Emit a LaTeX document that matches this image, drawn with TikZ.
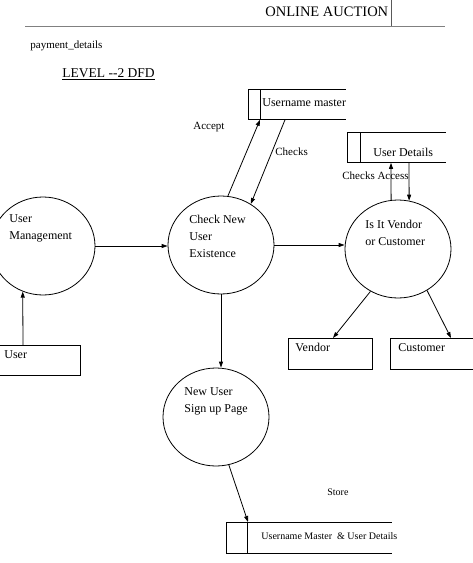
\documentclass[tikz,border=0pt]{standalone}
\usepackage{fontspec}
\setmainfont{Liberation Serif}
\usetikzlibrary{shapes.geometric,arrows.meta}

\begin{document}
\begin{tikzpicture}[x=1pt,y=-1pt,line width=0.8pt,
  process/.style={draw, ellipse, minimum width=106pt, minimum height=98pt, inner sep=0pt},
  txt/.style={anchor=west, align=left, inner sep=0pt, font=\fontsize{12}{17}\selectfont},
  small/.style={anchor=west, inner sep=0pt, font=\fontsize{11}{13}\selectfont},
  box/.style={draw, rectangle, anchor=north west, inner sep=0pt},
  storebox/.style={rectangle, anchor=north west, inner sep=0pt},
  flow/.style={-{Triangle[length=6pt,width=4pt]}}]
\useasboundingbox (0,0) rectangle (473,563);

% header
\node[anchor=west, inner sep=0pt, font=\fontsize{14.5}{16}\selectfont] (title) at (265,12) {ONLINE AUCTION};
\draw[gray!70!black, line width=0.6pt] (391,0) -- (391,26);
\draw[gray, line width=0.6pt] (25,26) -- (445,26);
\node[small] (payT) at (30,46) {payment\_details};
\node[anchor=west, inner sep=0pt, font=\fontsize{13.5}{16}\selectfont] (levelT) at (62,74) {\underline{LEVEL -{}-2 DFD}};

% processes
\node[process, minimum width=104pt] (mgmt) at (43,246) {};
\node[process] (chk) at (221,245) {};
\node[process] (isit) at (398,249) {};
\node[process] (newu) at (216,417) {};
\node[txt] (mgmtT) at (9,228.5) {User\\Management};
\node[txt] (chkT) at (189,236) {Check New\\User\\Existence};
\node[txt] (isitT) at (365,232.5) {Is It Vendor\\or Customer};
\node[txt] (newuT) at (184,401.5) {New User\\Sign up Page};

% entities
\node[box, minimum width=81pt, minimum height=30pt] (user) at (-1,345) {};
\node[box, minimum width=84pt, minimum height=31pt] (vendor) at (288,338) {};
\node[box, minimum width=83pt, minimum height=31pt] (customer) at (390,338) {};
\node[txt, anchor=base west] (userT) at (4,358) {User};
\node[txt, anchor=base west] (vendorT) at (295,351) {Vendor};
\node[txt, anchor=base west] (customerT) at (398,351) {Customer};

% data stores
\node[storebox, minimum width=97pt, minimum height=30pt] (umaster) at (248,89) {};
\draw (umaster.north east) -- (umaster.north west) -- (umaster.south west) -- (umaster.south east);
\draw ([xshift=12pt]umaster.north west) -- ([xshift=12pt]umaster.south west);
\node[txt] (umasterT) at (262,103) {Username master};

\node[storebox, minimum width=98pt, minimum height=30pt] (udet) at (347,132) {};
\draw (udet.north east) -- (udet.north west) -- (udet.south west) -- (udet.south east);
\draw ([xshift=13pt]udet.north west) -- ([xshift=13pt]udet.south west);
\node[txt] (udetT) at (373,152) {User Details};

\node[storebox, minimum width=165pt, minimum height=31pt] (bstore) at (226,522) {};
\draw (bstore.north east) -- (bstore.north west) -- (bstore.south west) -- (bstore.south east);
\draw ([xshift=21pt]bstore.north west) -- ([xshift=21pt]bstore.south west);
\node[txt, font=\fontsize{10}{12}\selectfont] (bstoreT) at (261,536) {Username Master\ \ \& User Details};

% flow labels
\node[small] (acceptL) at (193,127) {Accept};
\node[small] (checksL) at (275,152) {Checks};
\node[small] (accessL) at (342,176) {Checks Access};
\node[small, font=\fontsize{10}{12}\selectfont] (storeL) at (327,492) {Store};

% flows
\draw[flow] ([xshift=24pt]user.north west) -- (mgmt.-114);
\draw[flow] (mgmt.east) -- (mgmt.east -| chk.west);
\draw[flow] (chk.east) -- (chk.east -| isit.west);
\draw[flow] (chk.82) -- ([xshift=12pt]umaster.south west);
\draw[flow] ([xshift=37pt]umaster.south west) -- (chk.54);
\draw[flow] (isit.98) -- ([xshift=44pt]udet.south west);
\draw[flow] ([xshift=62pt]udet.south west) -- (isit.77);
\draw[flow] (isit.-123) -- ([xshift=45pt]vendor.north west);
\draw[flow] (isit.-55) -- ([xshift=61pt]customer.north west);
\draw[flow] (chk.south) -- (chk.south |- newu.north);
\draw[flow] (newu.-75) -- ([xshift=22pt]bstore.north west);
\end{tikzpicture}
\end{document}
